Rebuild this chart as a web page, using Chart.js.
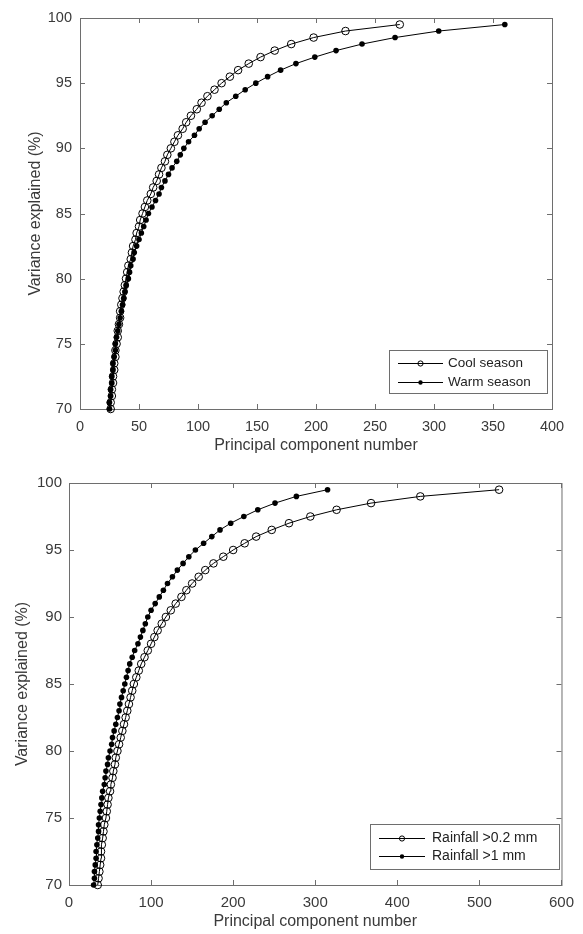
<!DOCTYPE html>
<html><head><meta charset="utf-8">
<script src="https://cdn.jsdelivr.net/npm/chart.js@4/dist/chart.umd.min.js"></script>
<style>
html,body{margin:0;padding:0;background:#fff;}
#wrap{position:relative;width:583px;height:934px;overflow:hidden;}
.c{position:absolute;left:0;width:583px;height:467px;}
</style></head><body>
<div id="wrap">
<div class="c" style="top:0"><canvas id="topChart"></canvas></div>
<div class="c" style="top:467px"><canvas id="botChart"></canvas></div>
</div>
<script>
// Variance explained levels (%) – y values shared by all series
const variance = [70,70.5,71,71.5,72,72.5,73,73.5,74,74.5,
  75,75.5,76,76.5,77,77.5,78,78.5,79,79.5,
  80,80.5,81,81.5,82,82.5,83,83.5,84,84.5,
  85,85.5,86,86.5,87,87.5,88,88.5,89,89.5,
  90,90.5,91,91.5,92,92.5,93,93.5,94,94.5,
  95,95.5,96,96.5,97,97.5,98,98.5,99,99.5];

// Principal component numbers (x values)
const coolSeason = [26,26,27,27,28,28,29,29,30,30,
  31,32,32,33,34,34,35,36,37,38,
  39,40,41,43,44,45,47,48,50,51,
  53,55,57,60,62,65,67,69,72,74,
  77,80,83,87,90,94,99,103,108,114,
  120,127,134,143,153,165,179,198,225,271];
const warmSeason = [25,25,26,26,27,27,28,28,29,30,
  30,31,32,33,34,35,36,37,38,39,
  41,42,43,45,46,48,50,52,54,56,
  58,61,64,67,69,72,75,78,82,85,
  88,92,97,101,106,112,118,124,132,140,
  149,159,170,183,199,217,239,267,304,360];
const rainfall02 = [35,36,37,38,39,39,40,41,42,43,
  45,46,47,48,50,51,53,54,56,57,
  59,61,63,65,67,69,71,73,75,77,
  79,82,85,88,92,96,100,104,108,113,
  118,124,130,137,143,150,158,166,176,188,
  200,214,228,247,268,294,326,368,428,524];
const rainfall1 = [30,31,31,32,33,33,34,35,36,36,
  37,38,39,40,41,43,44,45,47,48,
  50,52,53,55,57,59,61,62,64,66,
  68,70,72,74,77,80,84,87,90,93,
  96,100,105,110,115,120,126,132,139,146,
  154,164,174,184,197,213,230,251,277,315];

const topLabels = ['Cool season','Warm season'];
const botLabels = ['Rainfall >0.2 mm','Rainfall >1 mm'];
const topXTicks = [0,50,100,150,200,250,300,350,400];
const botXTicks = [0,100,200,300,400,500,600];
const yTicks = [70,75,80,85,90,95,100];
const xTitle = 'Principal component number';
const yTitle = 'Variance explained (%)';

const FONT = '"Liberation Sans", Arial, Helvetica, sans-serif';
const AXIS_COLOR = '#6e6e6e';
const TEXT_COLOR = '#3a3a3a';

const boxTicks = {
  id: 'boxTicks',
  beforeDatasetsDraw(chart) {
    const ctx = chart.ctx, a = chart.chartArea;
    const xs = chart.scales.x, ys = chart.scales.y;
    const L = 5;
    ctx.save();
    ctx.strokeStyle = AXIS_COLOR;
    ctx.lineWidth = 1;
    ctx.strokeRect(a.left + 0.5, a.top + 0.5, a.right - a.left, a.bottom - a.top);
    ctx.beginPath();
    xs.ticks.forEach(t => {
      const px = Math.round(xs.getPixelForValue(t.value)) + 0.5;
      ctx.moveTo(px, a.bottom); ctx.lineTo(px, a.bottom - L);
      ctx.moveTo(px, a.top); ctx.lineTo(px, a.top + L);
    });
    ys.ticks.forEach(t => {
      const py = Math.round(ys.getPixelForValue(t.value)) + 0.5;
      ctx.moveTo(a.left, py); ctx.lineTo(a.left + L, py);
      ctx.moveTo(a.right, py); ctx.lineTo(a.right - L, py);
    });
    ctx.stroke();
    ctx.restore();
  }
};

const legendBox = {
  id: 'legendBox',
  afterDraw(chart, args, o) {
    const ctx = chart.ctx, a = chart.chartArea;
    const x0 = Math.round(a.right - o.right - o.w), y0 = Math.round(a.bottom - o.bottom - o.h);
    ctx.save();
    ctx.fillStyle = '#fff';
    ctx.fillRect(x0, y0, o.w, o.h);
    ctx.strokeStyle = AXIS_COLOR; ctx.lineWidth = 1;
    ctx.strokeRect(x0 + 0.5, y0 + 0.5, o.w, o.h);
    ctx.font = o.fontSize + 'px ' + FONT;
    ctx.textBaseline = 'middle';
    ctx.textAlign = 'left';
    chart.data.datasets.forEach((ds, i) => {
      const y = y0 + o.rows[i];
      ctx.strokeStyle = '#000'; ctx.lineWidth = 1;
      ctx.beginPath(); ctx.moveTo(x0 + o.lx1, y); ctx.lineTo(x0 + o.lx2, y); ctx.stroke();
      const cx = x0 + (o.lx1 + o.lx2) / 2;
      ctx.beginPath(); ctx.arc(cx, y, ds._legendR, 0, Math.PI * 2);
      if (ds._filled) { ctx.fillStyle = '#000'; ctx.fill(); }
      else { ctx.stroke(); }
      ctx.fillStyle = '#222';
      ctx.fillText(ds.label, x0 + o.tx, y);
    });
    ctx.restore();
  }
};

function makeSeries(xs) { return xs.map((x, i) => ({x: x, y: variance[i]})); }

function openDs(label, xs, r) {
  return { label, data: makeSeries(xs), showLine: true, borderColor: '#000', borderWidth: 1,
    pointRadius: r, pointHoverRadius: r, pointBorderWidth: 1, pointBorderColor: '#000',
    pointBackgroundColor: 'rgba(0,0,0,0)', clip: false, _filled: false, _legendR: 2.6 };
}
function filledDs(label, xs, r) {
  return { label, data: makeSeries(xs), showLine: true, borderColor: '#000', borderWidth: 1,
    pointRadius: r, pointHoverRadius: r, pointBorderWidth: 0, pointBorderColor: '#000',
    pointBackgroundColor: '#000', clip: false, _filled: true, _legendR: 2.2 };
}

function makeChart(id, cfg) {
  return new Chart(document.getElementById(id), {
    type: 'scatter',
    data: { datasets: cfg.datasets },
    options: {
      responsive: true, maintainAspectRatio: false, animation: false,
      events: [],
      layout: { padding: cfg.padding },
      plugins: { legend: { display: false }, tooltip: { enabled: false }, legendBox: cfg.legend },
      scales: {
        x: {
          type: 'linear', min: cfg.xTicks[0], max: cfg.xTicks[cfg.xTicks.length - 1],
          afterBuildTicks: s => { s.ticks = cfg.xTicks.map(v => ({value: v})); },
          afterFit: s => { s.height = cfg.xHeight; },
          grid: { display: false, drawTicks: false }, border: { display: false },
          ticks: { padding: cfg.xTickPad, color: TEXT_COLOR, font: { family: FONT, size: cfg.tickSize }, maxRotation: 0, autoSkip: false },
          title: { display: true, text: xTitle, color: TEXT_COLOR, font: { family: FONT, size: 16 }, padding: { top: 0, bottom: cfg.xTitlePad } }
        },
        y: {
          type: 'linear', min: 70, max: 100,
          afterBuildTicks: s => { s.ticks = yTicks.map(v => ({value: v})); },
          afterFit: s => { s.width = cfg.yWidth; },
          grid: { display: false, drawTicks: false }, border: { display: false },
          ticks: { padding: cfg.yTickPad, color: TEXT_COLOR, font: { family: FONT, size: cfg.tickSize }, autoSkip: false },
          title: { display: true, text: yTitle, color: TEXT_COLOR, font: { family: FONT, size: 16 }, padding: { top: cfg.yTitlePad, bottom: 0 } }
        }
      }
    },
    plugins: [boxTicks, legendBox]
  });
}

makeChart('topChart', {
  datasets: [openDs(topLabels[0], coolSeason, 3.8), filledDs(topLabels[1], warmSeason, 2.8)],
  xTicks: topXTicks, padding: { top: 18, right: 31, bottom: 0, left: 0 },
  xHeight: 58, yWidth: 80, xTickPad: 9, yTickPad: 8, tickSize: 14.5, xTitlePad: 12, yTitlePad: 26,
  legend: { w: 158, h: 43, right: 5, bottom: 16, rows: [13.5, 32.5], lx1: 9, lx2: 54, tx: 59, fontSize: 13.5 }
});

makeChart('botChart', {
  datasets: [openDs(botLabels[0], rainfall02, 3.8), filledDs(botLabels[1], rainfall1, 2.8)],
  xTicks: botXTicks, padding: { top: 13, right: 14, bottom: 0, left: 0 },
  xHeight: 49, yWidth: 69, xTickPad: 9, yTickPad: 7, tickSize: 15, xTitlePad: 3, yTitlePad: 13,
  legend: { w: 189, h: 45, right: 2, bottom: 16, rows: [14.5, 32.5], lx1: 9, lx2: 55, tx: 62, fontSize: 14 }
});
</script>
</body></html>
